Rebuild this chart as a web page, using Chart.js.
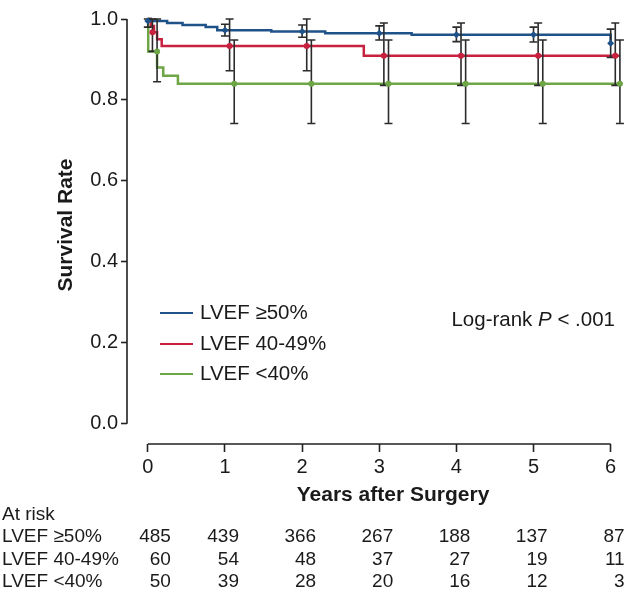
<!DOCTYPE html>
<html>
<head>
<meta charset="utf-8">
<script src="https://cdn.jsdelivr.net/npm/chart.js@4.4.1/dist/chart.umd.min.js"></script>
<style>
  html, body { margin: 0; padding: 0; background: #fff; }
</style>
</head>
<body>
<canvas id="kmChart" width="627" height="595"></canvas>
<script>
// group labels and colours
const groupNames = ['LVEF \u226550%', 'LVEF 40-49%', 'LVEF <40%'];
const groupColors = ['#1f5289', '#c8203f', '#6ea646'];

// x ticks (years) and y ticks
const years = [0, 1, 2, 3, 4, 5, 6];
const yTicks = [0, 0.2, 0.4, 0.6, 0.8, 1.0];

// Kaplan-Meier step curves (time, survival)
const highTimes = [0, 0.04, 0.25, 0.45, 0.75, 0.9, 1.6, 2.3, 3.42, 6.0];
const highSurv  = [1.0, 0.995, 0.99, 0.985, 0.98, 0.972, 0.969, 0.965, 0.961, 0.94];
const midTimes  = [0, 0.04, 0.08, 0.12, 0.18, 2.8, 6.12];
const midSurv   = [1.0, 0.983, 0.967, 0.95, 0.933, 0.909, 0.909];
const lowTimes  = [0, 0.005, 0.12, 0.2, 0.39, 6.12];
const lowSurv   = [1.0, 0.92, 0.88, 0.86, 0.84, 0.84];

// yearly estimates with confidence limits
const highPoint = [0.995, 0.972, 0.969, 0.965, 0.961, 0.961, 0.94];
const highLower = [0.98, 0.958, 0.955, 0.948, 0.944, 0.943, 0.905];
const highUpper = [1.0, 0.987, 0.985, 0.983, 0.98, 0.98, 0.975];
const midPoint  = [0.967, 0.933, 0.933, 0.909, 0.909, 0.909, 0.909];
const midLower  = [0.92, 0.872, 0.872, 0.836, 0.836, 0.836, 0.836];
const midUpper  = [1.0, 1.0, 1.0, 0.99, 0.99, 0.99, 0.99];
const lowPoint  = [0.92, 0.84, 0.84, 0.84, 0.84, 0.84, 0.84];
const lowLower  = [0.845, 0.742, 0.742, 0.742, 0.742, 0.742, 0.742];
const lowUpper  = [1.0, 0.948, 0.948, 0.948, 0.948, 0.948, 0.948];
const markOffset = [0, 0.06, 0.12]; // small horizontal dodge per group

// numbers at risk
const riskHigh = [485, 439, 366, 267, 188, 137, 87];
const riskMid  = [60, 54, 48, 37, 27, 19, 11];
const riskLow  = [50, 39, 28, 20, 16, 12, 3];

const FONT = '"Liberation Sans", Arial, Helvetica, sans-serif';
const axisColor = '#222';
const textColor = '#1a1a1a';

function toXY(xs, ys) {
    return xs.map((x, i) => ({ x: x, y: ys[i] }));
}

const curves = [[highTimes, highSurv], [midTimes, midSurv], [lowTimes, lowSurv]];
const points = [highPoint, midPoint, lowPoint];
const lowers = [highLower, midLower, lowLower];
const uppers = [highUpper, midUpper, lowUpper];
const risks  = [riskHigh, riskMid, riskLow];

const datasets = [];
// marker datasets first so they are painted on top
points.forEach((vals, g) => {
    datasets.push({
        type: 'scatter',
        label: groupNames[g] + ' est',
        data: toXY(years.map(y => y + markOffset[g]), vals),
        pointStyle: g === 0 ? 'rectRot' : 'circle',
        pointRadius: g === 0 ? 3.5 : 3,
        pointBackgroundColor: groupColors[g],
        pointBorderWidth: 0,
        clip: false
    });
});
curves.forEach((c, g) => {
    datasets.push({
        type: 'line',
        label: groupNames[g],
        data: toXY(c[0], c[1]),
        stepped: 'before',
        borderColor: groupColors[g],
        borderWidth: 2.5,
        pointRadius: 0,
        fill: false,
        clip: false
    });
});

// error bars, drawn just before the first marker set
const errorBars = {
    id: 'errorBars',
    beforeDatasetDraw(chart, args) {
        if (args.index !== points.length - 1) return;
        const { ctx, scales: { x, y } } = chart;
        ctx.save();
        ctx.strokeStyle = '#2b2b2b';
        ctx.lineWidth = 1.6;
        for (let g = 0; g < points.length; g++) {
            years.forEach((t, i) => {
                const px = x.getPixelForValue(t + markOffset[g]);
                const lo = y.getPixelForValue(lowers[g][i]);
                const hi = y.getPixelForValue(uppers[g][i]);
                ctx.beginPath();
                ctx.moveTo(px, lo); ctx.lineTo(px, hi);
                ctx.moveTo(px - 4, lo); ctx.lineTo(px + 4, lo);
                ctx.moveTo(px - 4, hi); ctx.lineTo(px + 4, hi);
                ctx.stroke();
            });
        }
        ctx.restore();
    }
};

// detached spines, titles, legend, log-rank note and at-risk table
const decorations = {
    id: 'decorations',
    afterDraw(chart) {
        const { ctx, chartArea, scales: { x, y } } = chart;
        ctx.save();
        ctx.strokeStyle = axisColor;
        ctx.lineWidth = 1.6;
        ctx.beginPath();
        ctx.moveTo(chartArea.left, y.getPixelForValue(0));
        ctx.lineTo(chartArea.left, y.getPixelForValue(1));
        ctx.moveTo(x.getPixelForValue(0), chartArea.bottom);
        ctx.lineTo(x.getPixelForValue(6), chartArea.bottom);
        ctx.stroke();

        ctx.fillStyle = textColor;
        ctx.textBaseline = 'middle';

        // axis titles
        ctx.font = 'bold 21px ' + FONT;
        ctx.textAlign = 'center';
        ctx.fillText('Years after Surgery', 393, 495);
        ctx.save();
        ctx.translate(66, 225);
        ctx.rotate(-Math.PI / 2);
        ctx.fillText('Survival Rate', 0, 0);
        ctx.restore();

        // legend
        ctx.font = '20.5px ' + FONT;
        ctx.textAlign = 'left';
        const legendY = [313, 344, 374];
        groupNames.forEach((name, g) => {
            ctx.strokeStyle = groupColors[g];
            ctx.lineWidth = 2.2;
            ctx.beginPath();
            ctx.moveTo(160, legendY[g]);
            ctx.lineTo(193, legendY[g]);
            ctx.stroke();
            ctx.fillText(name, 200, legendY[g]);
        });

        // log-rank note with italic P
        const partA = 'Log-rank ', partB = 'P', partC = ' < .001';
        ctx.font = '20.5px ' + FONT;
        const wA = ctx.measureText(partA).width, wC = ctx.measureText(partC).width;
        ctx.font = 'italic 20.5px ' + FONT;
        const wB = ctx.measureText(partB).width;
        const lx = 615 - (wA + wB + wC);
        ctx.font = '20.5px ' + FONT;
        ctx.fillText(partA, lx, 320);
        ctx.font = 'italic 20.5px ' + FONT;
        ctx.fillText(partB, lx + wA, 320);
        ctx.font = '20.5px ' + FONT;
        ctx.fillText(partC, lx + wA + wB, 320);

        // at-risk table
        ctx.font = '19px ' + FONT;
        ctx.fillText('At risk', 2, 515);
        const rowY = [537, 560, 582];
        risks.forEach((row, g) => {
            ctx.textAlign = 'left';
            ctx.fillText(groupNames[g], 2, rowY[g]);
            ctx.textAlign = 'right';
            row.forEach((n, i) => {
                const px = x.getPixelForValue(years[i]) + (i === 0 ? 23 : 14);
                ctx.fillText(String(n), px, rowY[g]);
            });
        });
        ctx.restore();
    }
};

new Chart(document.getElementById('kmChart').getContext('2d'), {
    data: { datasets: datasets },
    options: {
        responsive: false,
        animation: false,
        layout: { padding: { top: 19, right: 2, left: 0, bottom: 0 } },
        plugins: {
            legend: { display: false },
            tooltip: { enabled: false }
        },
        scales: {
            x: {
                type: 'linear',
                min: -0.27,
                max: 6.16,
                afterBuildTicks: s => { s.ticks = years.map(v => ({ value: v })); },
                afterFit: s => { s.height = 151; },
                border: { display: false },
                grid: { drawOnChartArea: false, drawTicks: true, tickLength: 8, tickWidth: 1.6, tickColor: axisColor },
                ticks: { font: { family: FONT, size: 20 }, color: textColor, padding: 3, maxRotation: 0, callback: v => String(v) }
            },
            y: {
                type: 'linear',
                min: -0.05,
                max: 1.0,
                afterBuildTicks: s => { s.ticks = yTicks.map(v => ({ value: v })); },
                afterFit: s => { s.width = 127; },
                border: { display: false },
                grid: { drawOnChartArea: false, drawTicks: true, tickLength: 6, tickWidth: 1.6, tickColor: axisColor },
                ticks: { font: { family: FONT, size: 20 }, color: textColor, padding: 3, callback: v => v.toFixed(1) }
            }
        }
    },
    plugins: [errorBars, decorations]
});
</script>
</body>
</html>
